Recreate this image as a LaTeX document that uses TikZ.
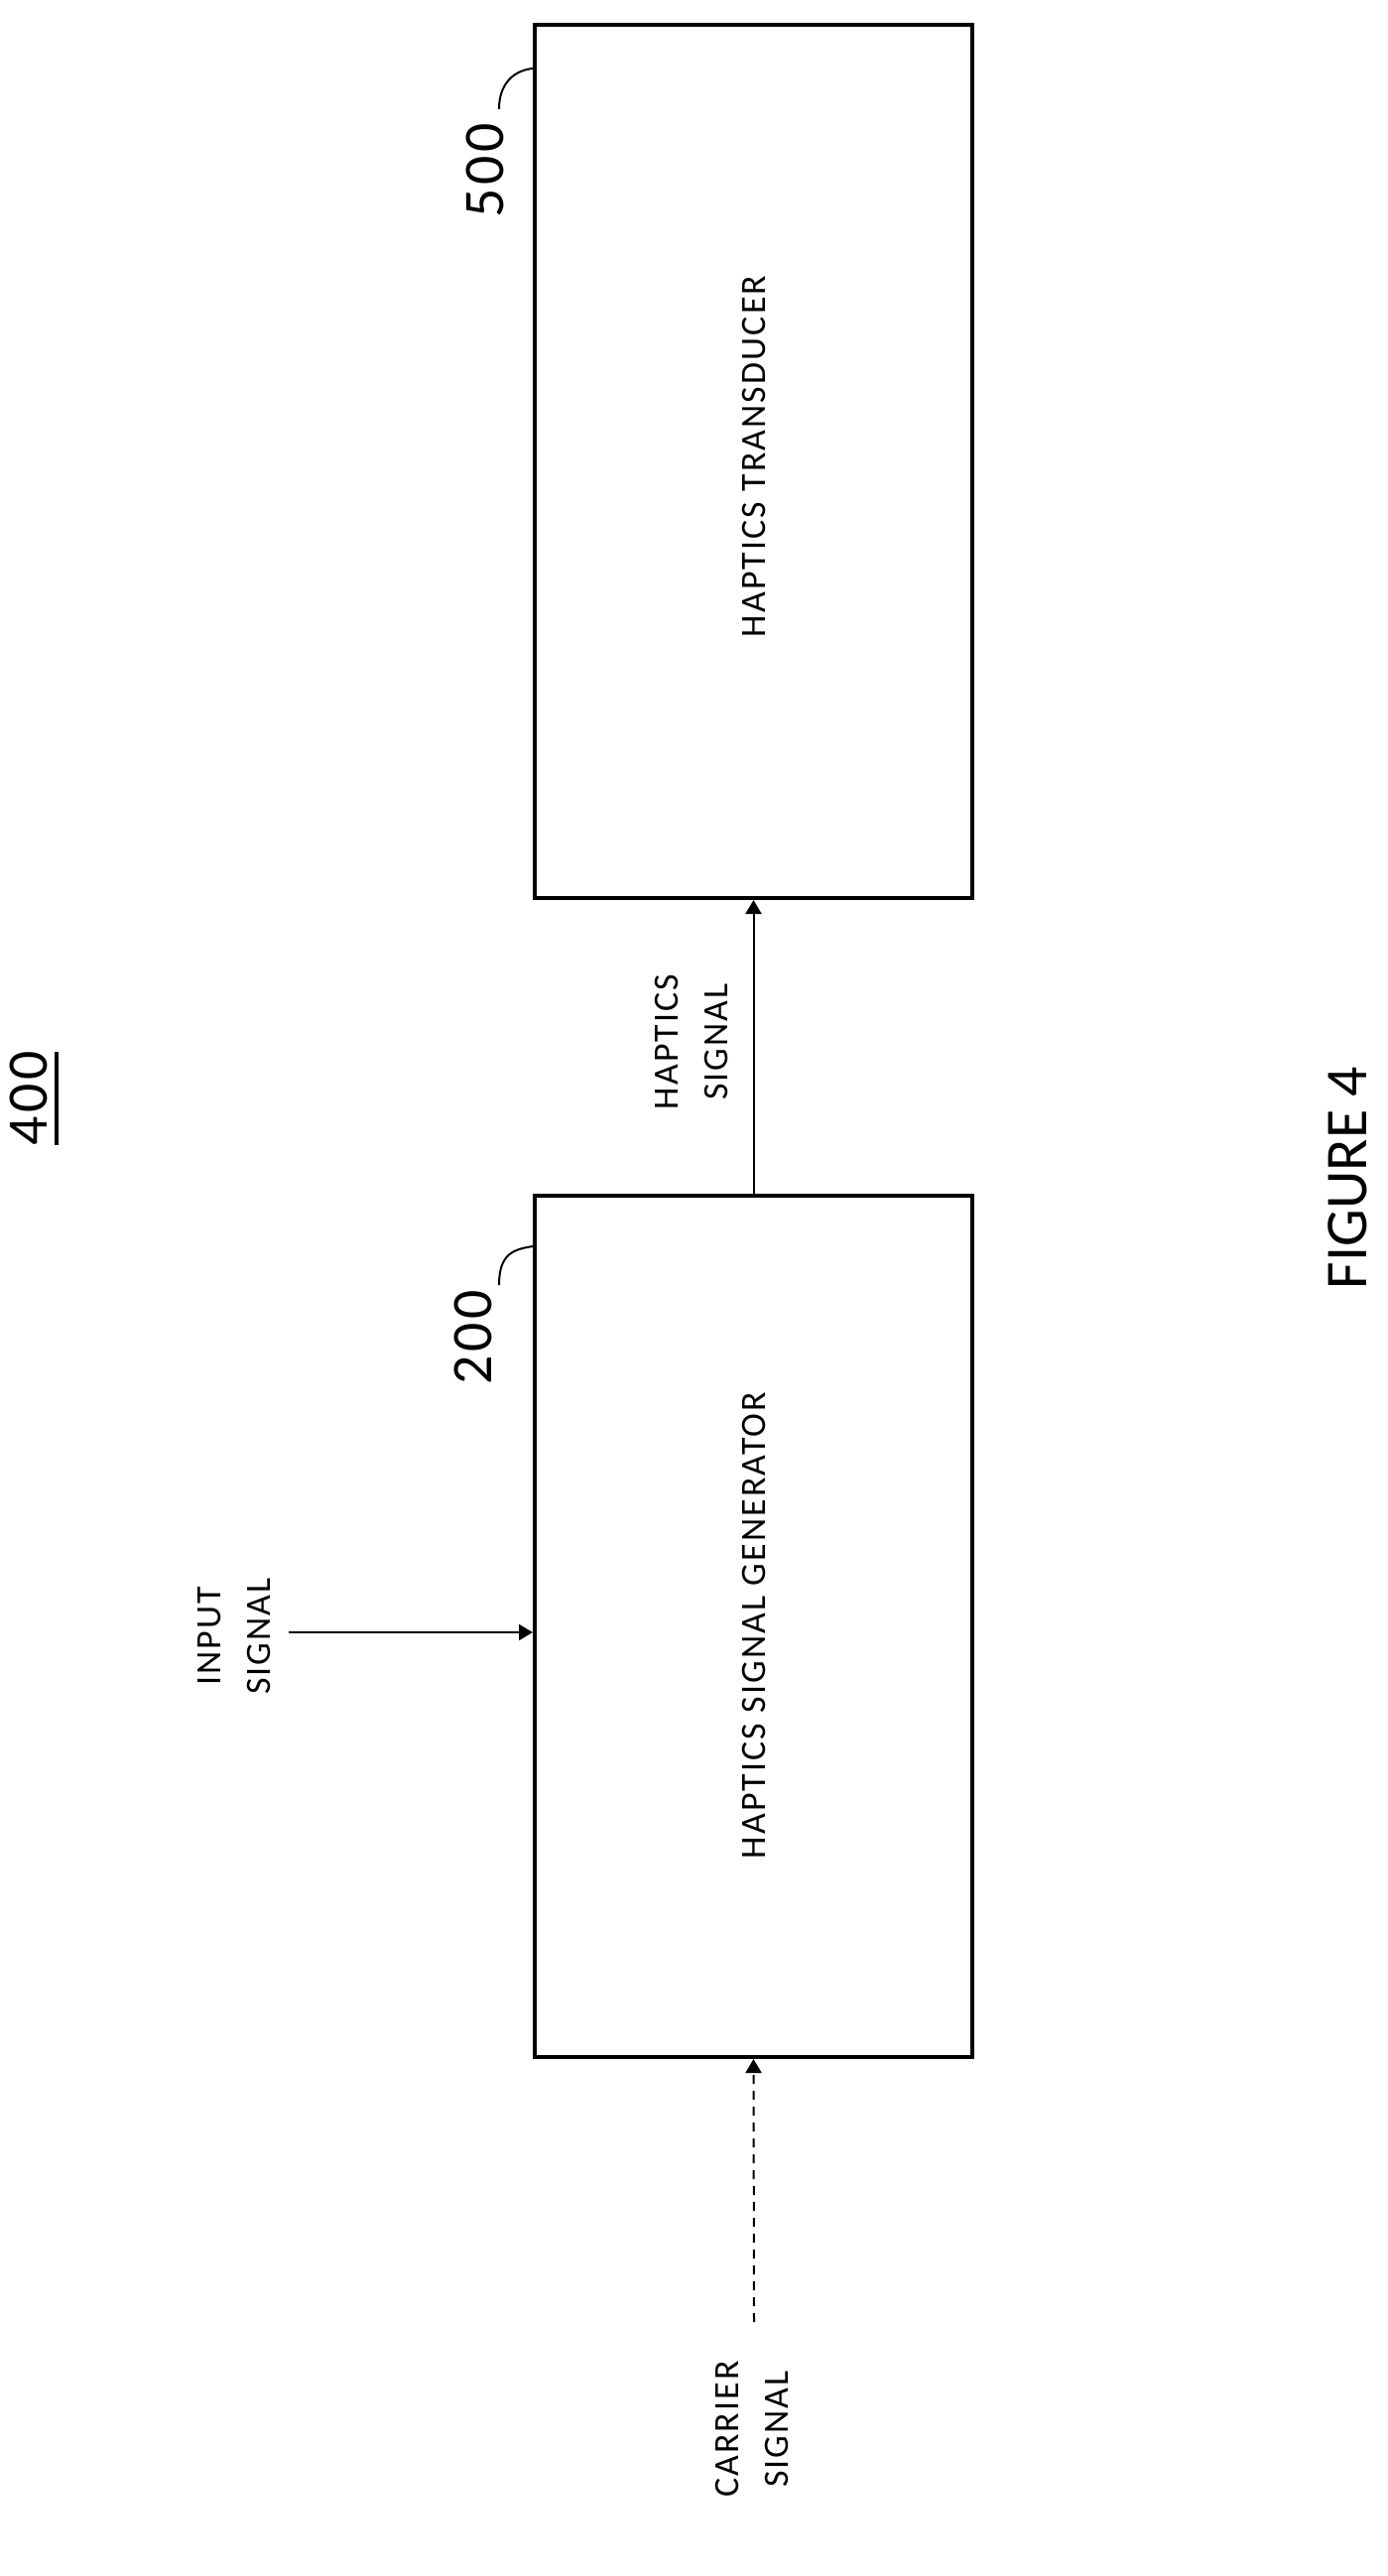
\documentclass[tikz,border=0pt]{standalone}
\usepackage{fontspec}
\setmainfont{Carlito}[LetterSpace=6]
\usetikzlibrary{arrows.meta}
\begin{document}
\begin{tikzpicture}[x=1bp,y=-1bp,
  blk/.style={draw,line width=4bp,minimum width=441bp,inner sep=0pt},
  lbl/.style={rotate=90,font=\fontsize{36}{44}\selectfont,align=center,inner sep=0pt},
  num/.style={rotate=90,font=\fontsize{58}{60}\selectfont,inner sep=0pt},
  sig/.style={line width=2bp,-{Triangle[length=14bp,width=16bp]}},
  lead/.style={line width=2bp}]
\useasboundingbox (0,0) rectangle (1399,2596);
\node[blk,minimum height=880bp] (tr) at (759.5,465) {};
\node[blk,minimum height=868bp] (gen) at (759.5,1639) {};
\node[lbl] (trt) at (760,460) {HAPTICS TRANSDUCER};
\node[lbl] (gent) at (760,1638) {HAPTICS SIGNAL GENERATOR};
\draw[sig] (gen.north) -- (tr.south);
\coordinate (inp) at (291,1645);
\draw[sig] (inp) -- (inp -| gen.west);
\coordinate (car) at (760,2340);
\draw[sig,dash pattern=on 9bp off 7bp] (car) -- (gen.south);
\node[lbl] (hs) at (697,1050) {HAPTICS\\[6bp]SIGNAL};
\node[lbl] (is) at (236,1649) {INPUT\\[6bp]SIGNAL};
\node[lbl] (cs) at (758,2448) {CARRIER\\[6bp]SIGNAL};
\node[num] (n500) at (489,172) {500};
\node[num] (n200) at (477,1348) {200};
\coordinate (c500) at (503,110);
\coordinate (c200) at (503,1295);
\draw[lead] (c500) .. controls (503,84) and (518,71) .. (tr.west |- 0,69);
\draw[lead] (c200) .. controls (503,1263) and (518,1259) .. (gen.west |- 0,1256);
\node[num] (n400) at (29,1107) {400};
\coordinate (u1) at (57,1060);
\coordinate (u2) at (57,1154);
\draw[line width=4bp] (u1) -- (u2);
\node[rotate=90,inner sep=0pt,font=\fontsize{60}{62}\selectfont\addfontfeatures{LetterSpace=0}] (fig) at (1358,1187) {FIGURE 4};
\end{tikzpicture}
\end{document}
